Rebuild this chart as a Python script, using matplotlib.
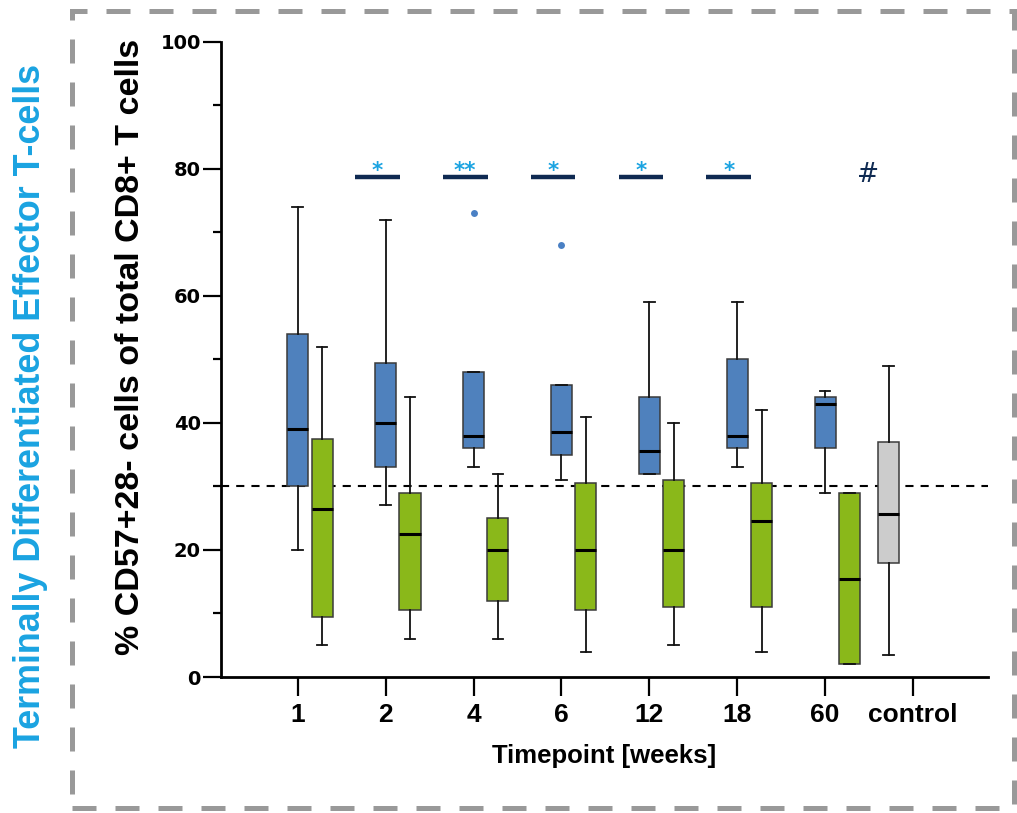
import matplotlib
matplotlib.use("Agg")
import matplotlib.pyplot as plt
from matplotlib.patches import Rectangle
from matplotlib.ticker import MultipleLocator

# ---- data -------------------------------------------------------------
timepoints = ["1", "2", "4", "6", "12", "18", "60", "control"]

# CD57+28- share, cohort A (blue)
a_whislo = [20, 27, 33, 31, 32, 33, 29]
a_q1 = [30, 33, 36, 35, 32, 36, 36]
a_med = [39, 40, 38, 38.5, 35.5, 38, 43]
a_q3 = [54, 49.5, 48, 46, 44, 50, 44]
a_whishi = [74, 72, 48, 46, 59, 59, 45]
a_fliers = [[], [], [73], [68], [], [], []]

# CD57+28- share, cohort B (green)
b_whislo = [5, 6, 6, 4, 5, 4, 2]
b_q1 = [9.5, 10.5, 12, 10.5, 11, 11, 2]
b_med = [26.5, 22.5, 20, 20, 20, 24.5, 15.5]
b_q3 = [37.5, 29, 25, 30.5, 31, 30.5, 29]
b_whishi = [52, 44, 32, 41, 40, 42, 29]

# healthy controls (grey)
ctrl_stats = {"whislo": 3.5, "q1": 18, "med": 25.7, "q3": 37, "whishi": 49}

threshold = 30

# significance marks between cohorts
sig_timepoints = ["2", "4", "6", "12", "18"]
sig_labels = ["*", "**", "*", "*", "*"]
sig_level = 78.7
hash_label = "#"
hash_level = 79

# ---- figure -----------------------------------------------------------
NARROW = ["Liberation Sans", "DejaVu Sans"]
BLUE = "#4f81bd"
GREEN = "#8ab81a"
GREY = "#cccccc"
NAVY = "#0f2a52"
CYAN = "#1aa3e1"

fig = plt.figure(figsize=(10.17, 8.13), dpi=100)
ax = fig.add_axes([221 / 1017, 1 - 677 / 813, (988 - 221) / 1017, (677 - 41.7) / 813])

pos = list(range(len(timepoints)))
box_w = 0.24
offset = 0.277


def stats(wl, q1, med, q3, wh, fl=()):
    return {"whislo": wl, "q1": q1, "med": med, "q3": q3, "whishi": wh, "fliers": list(fl)}


a_stats = [stats(*v) for v in zip(a_whislo, a_q1, a_med, a_q3, a_whishi, a_fliers)]
b_stats = [stats(*v) for v in zip(b_whislo, b_q1, b_med, b_q3, b_whishi)]
c_stats = [dict(ctrl_stats, fliers=[])]

common = dict(
    widths=box_w,
    capwidths=0.12,
    patch_artist=True,
    manage_ticks=False,
    whiskerprops=dict(color="#111111", lw=1.3),
    capprops=dict(color="#111111", lw=1.3),
    medianprops=dict(color="black", lw=2.2),
)


def draw(st, positions, face, flier_color=None):
    return ax.bxp(
        st,
        positions=positions,
        boxprops=dict(facecolor=face, edgecolor="#3a3a3a", lw=1.1),
        flierprops=dict(marker="o", markersize=5, markerfacecolor=flier_color or face,
                        markeredgecolor="none"),
        **common,
    )


draw(a_stats, pos[:7], BLUE, "#4a80c4")
draw(b_stats, [p + offset for p in pos[:7]], GREEN)
draw(c_stats, [pos[7] - offset], GREY)

ax.axhline(threshold, color="black", lw=1.5, ls=(0, (3.9, 3.4)), zorder=0.5)

# significance bars
for tp, lab in zip(sig_timepoints, sig_labels):
    x = timepoints.index(tp)
    ax.hlines(sig_level, x - 0.35, x + 0.16, color=NAVY, lw=3.2)
    ax.text(x - 0.095, sig_level - 0.7, lab, color=CYAN, fontsize=15.5,
            fontweight="bold", ha="center", va="bottom", family="DejaVu Sans")
ax.text(6.49, hash_level, hash_label, color=NAVY, fontsize=19, ha="center",
        va="center", family="DejaVu Sans")

# axes styling
ax.set_xlim(-0.873, 7.853)
ax.set_ylim(0, 100)
ax.set_xticks(pos)
ax.set_xticklabels(timepoints, fontsize=19, fontweight="bold", family=NARROW)
ax.yaxis.set_major_locator(MultipleLocator(20))
ax.yaxis.set_minor_locator(MultipleLocator(10))
for lab in ax.get_yticklabels():
    lab.set_fontfamily("DejaVu Sans")
    lab.set_fontweight("bold")
    lab.set_fontsize(14)
ax.tick_params(axis="y", which="major", length=13, width=1.6, pad=1.5)
ax.tick_params(axis="y", which="minor", length=6, width=1.6)
ax.tick_params(axis="x", which="major", length=14, width=1.6, pad=5)
for side in ("top", "right"):
    ax.spines[side].set_visible(False)
for side in ("left", "bottom"):
    ax.spines[side].set_linewidth(2)

ax.set_xlabel("Timepoint [weeks]", fontsize=18.5, fontweight="bold", family=NARROW,
              labelpad=12)
fig.text(131 / 1017, 1 - 347 / 813, "% CD57+28- cells of total CD8+ T cells",
         rotation=90, ha="center", va="center", fontsize=24.5, fontweight="bold",
         family=NARROW)
fig.text(31 / 1017, 1 - 406 / 813, "Terminally Differentiated Effector T-cells",
         rotation=90, ha="center", va="center", fontsize=25.8, fontweight="bold",
         family=NARROW, color=CYAN)

# dashed panel frame
fig.patches.append(Rectangle((72 / 1017, 1 - 808 / 813), (1014 - 72) / 1017,
                             (808 - 11) / 813, transform=fig.transFigure,
                             fill=False, edgecolor="#999999", lw=3.6,
                             ls=(0, (4.8, 3.8))))

fig.savefig("out.png", dpi=100)
